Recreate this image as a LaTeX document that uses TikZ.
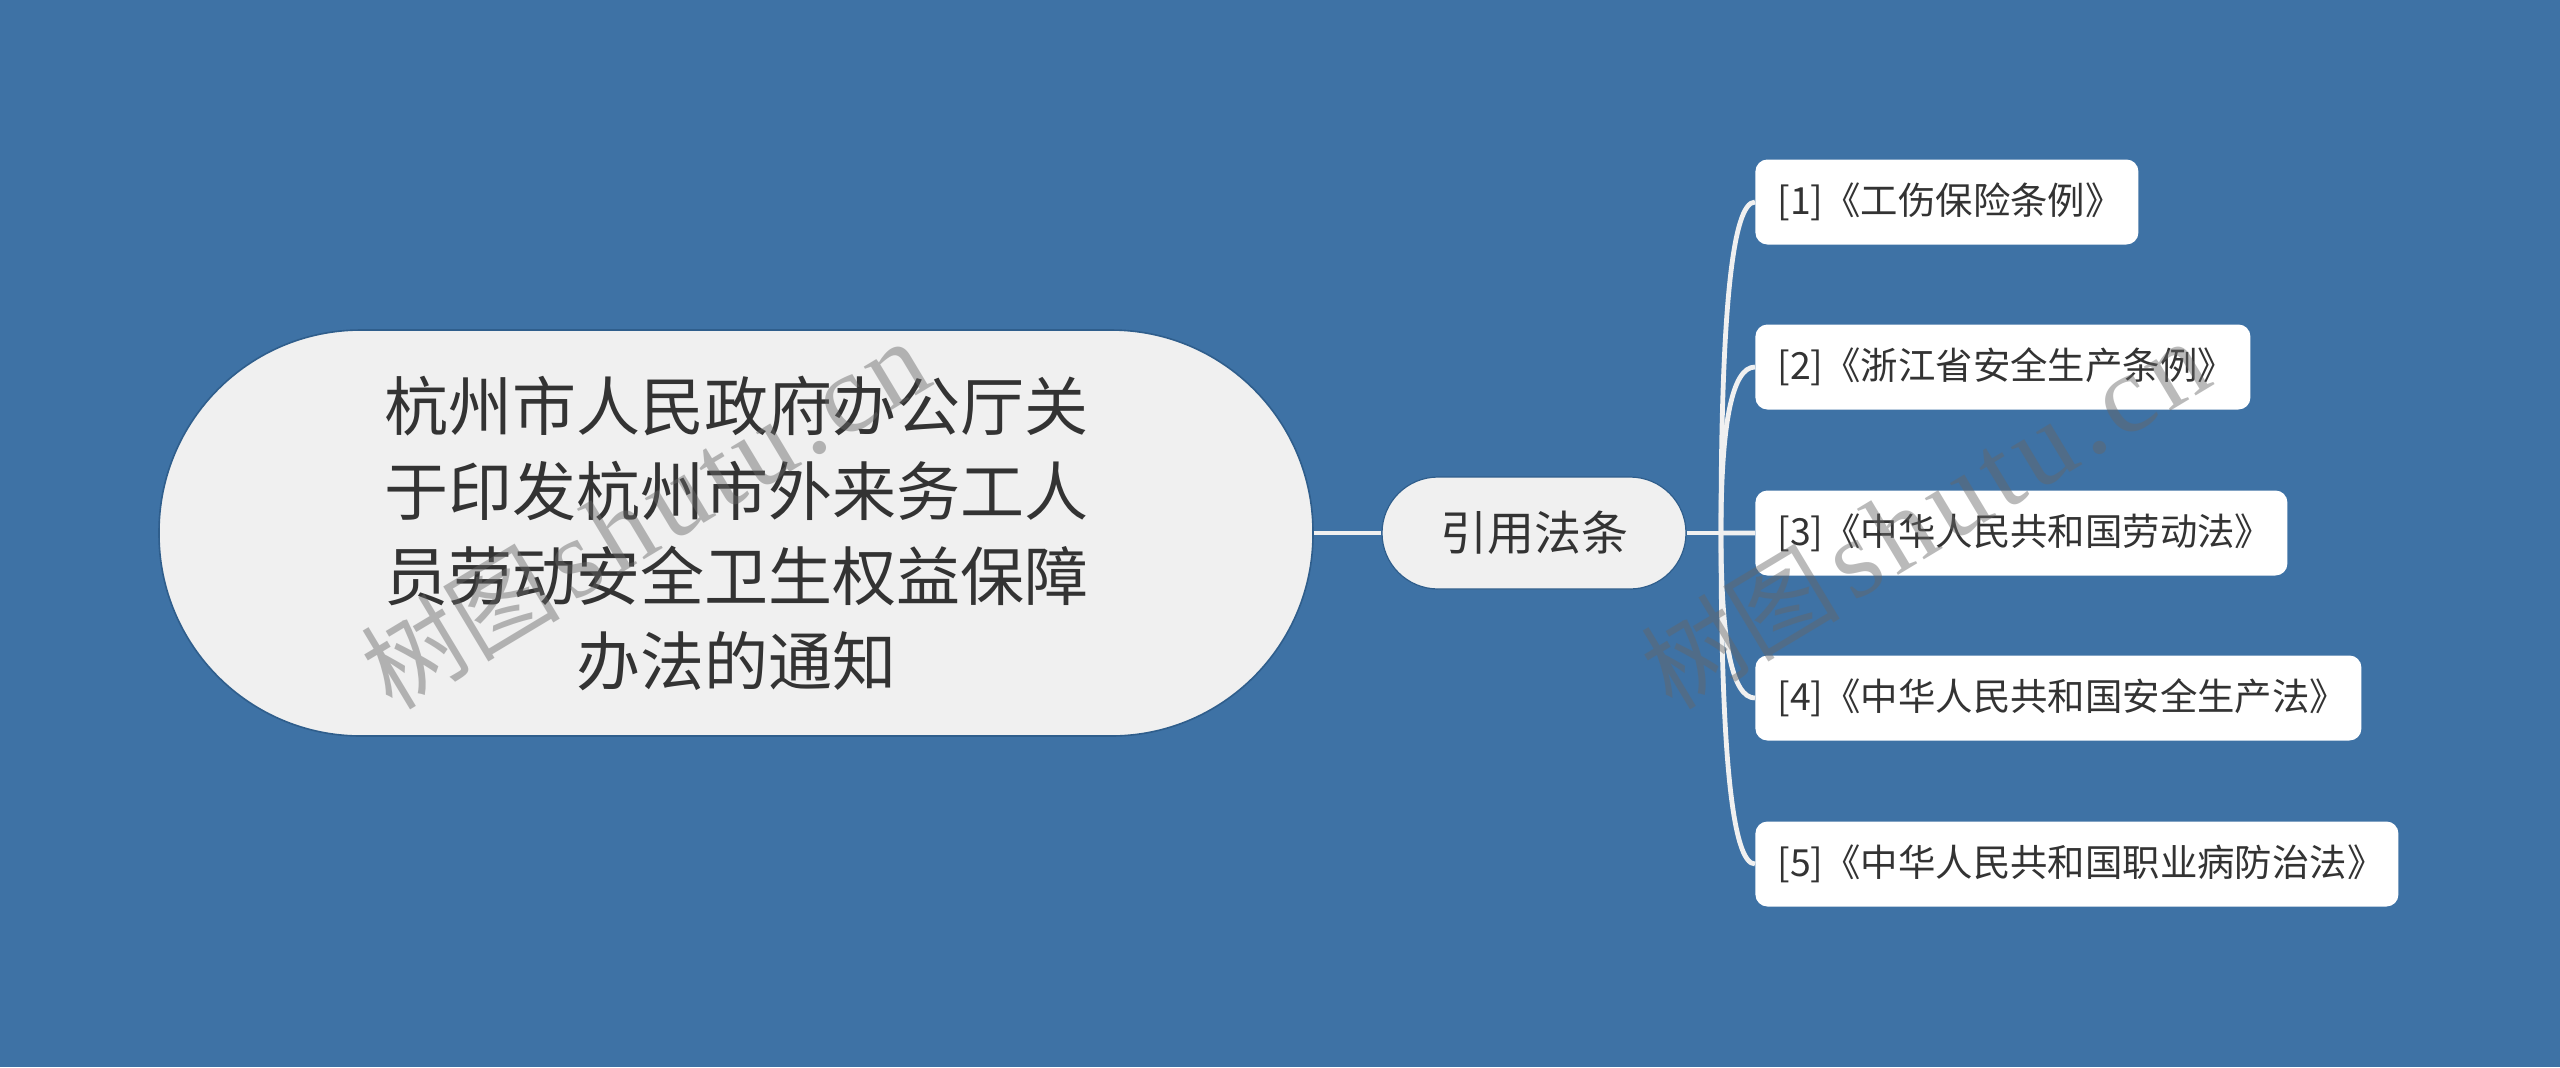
\documentclass[tikz,border=0pt]{standalone}
\usepackage{fontspec}
\setmainfont{Noto Sans CJK SC}
\newfontfamily\cjk{Noto Sans CJK SC}
\newfontfamily\wmserif[LetterSpace=6]{Liberation Serif}
\usetikzlibrary{calc}
\definecolor{bg}{HTML}{3E72A5}
\definecolor{rootfill}{HTML}{F0F0F0}
\definecolor{txt}{HTML}{333333}
\definecolor{edge}{HTML}{F0F0F0}
\definecolor{rim}{HTML}{2F5E8C}
\definecolor{wm}{HTML}{666666}
\newcommand\leafin[2]{\makebox[#1][l]{\hspace{11pt}#2}}
\begin{document}
\begin{tikzpicture}[x=0.5pt,y=-0.5pt,
 rootbox/.style={rectangle, rounded corners=101pt, fill=rootfill, draw=rim, line width=0.8pt, minimum width=577pt, minimum height=203pt, align=center, text=txt, font=\fontsize{32pt}{42.5pt}\selectfont, inner sep=0pt},
 midbox/.style={rectangle, rounded corners=28pt, fill=rootfill, draw=rim, line width=0.6pt, minimum width=152pt, minimum height=56pt, text=txt, font=\fontsize{23.5pt}{28pt}\selectfont, inner sep=0pt},
 leafbox/.style={rectangle, rounded corners=6pt, fill=white, minimum height=42.5pt, anchor=west, text=txt, font=\fontsize{18.7pt}{22pt}\selectfont, inner sep=0pt},
 link/.style={draw=edge, line width=2.4pt},
 wmark/.style={text=wm, opacity=0.45, rotate=31, inner sep=0pt}
]
\fill[bg] (0,0) rectangle (2560,1067);
\useasboundingbox (0,0) rectangle (2560,1067);

\node[rootbox] (root) at (736,533) {杭州市人民政府办公厅关\\于印发杭州市外来务工人\\员劳动安全卫生权益保障\\办法的通知};
\node[midbox] (mid) at (1534,533) {引用法条};
\coordinate (j) at (1721,533);

\node[leafbox] (l1) at (1755,202) {\leafin{191.5pt}{[1]《工伤保险条例》}};
\node[leafbox] (l2) at (1755,367) {\leafin{247.5pt}{[2]《浙江省安全生产条例》}};
\node[leafbox] (l3) at (1755,533) {\leafin{266pt}{[3]《中华人民共和国劳动法》}};
\node[leafbox] (l4) at (1755,698) {\leafin{303pt}{[4]《中华人民共和国安全生产法》}};
\node[leafbox] (l5) at (1755,864) {\leafin{321.5pt}{[5]《中华人民共和国职业病防治法》}};

\draw[link] (root.east) -- (mid.west);
\draw[link] (mid.east) -- (j);
\foreach \n in {l1,l2,l3,l4,l5}{
  \draw[link] (j) .. controls ($(j)!0.6667!(j |- \n.west)$) and ($(\n.west)!0.6667!(j |- \n.west)$) .. (\n.west);
}

\node[wmark] (wm1) at (645,515) {{\cjk\fontsize{50pt}{50pt}\selectfont 树图}\hspace{6pt}{\wmserif\fontsize{56pt}{56pt}\selectfont shutu.cn}};
\node[wmark] (wm2) at (1925,515) {{\cjk\fontsize{50pt}{50pt}\selectfont 树图}\hspace{6pt}{\wmserif\fontsize{56pt}{56pt}\selectfont shutu.cn}};
\end{tikzpicture}
\end{document}
